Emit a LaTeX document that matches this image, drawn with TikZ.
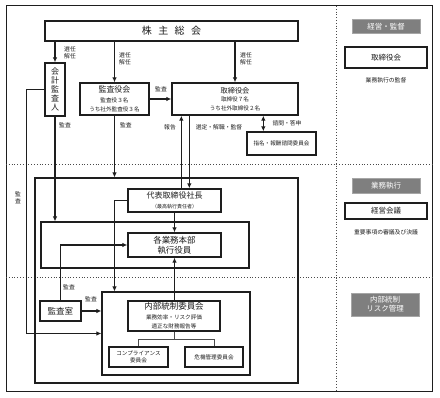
\documentclass[tikz,border=0pt]{standalone}
\usepackage{fontspec}
\setmainfont{Noto Sans CJK JP}
\usetikzlibrary{arrows.meta,positioning,calc}
\definecolor{ink}{HTML}{1E1E1E}
\definecolor{tagfill}{HTML}{7F7F7F}
\definecolor{dotgray}{HTML}{4A4A4A}
\newcommand\subtxt{\fontsize{5.6}{6.6}\selectfont}
\tikzset{box/.style={draw=ink,line width=1.3pt,fill=white,align=center,inner sep=1pt,text=ink,font=\fontsize{8}{9.5}\selectfont}, frame/.style={draw=ink,line width=1.2pt,inner sep=0pt}, tag/.style={fill=tagfill,draw=gray!70,text=white,align=center,minimum width=68pt,inner sep=1pt,font=\fontsize{7.5}{9}\selectfont}, lbl/.style={font=\fontsize{5.8}{7}\selectfont,text=ink,align=center,inner sep=0pt}, flow/.style={-{Latex[length=5pt,width=4.5pt]},line width=1.1pt,draw=ink}, twoway/.style={{Latex[length=5pt,width=4.5pt]}-{Latex[length=5pt,width=4.5pt]},line width=1.1pt,draw=ink}, wire/.style={line width=0.8pt,draw=ink!80}, sep/.style={dotted,line width=0.8pt,draw=dotgray}}
\begin{document}
\begin{tikzpicture}[x=1pt,y=-1pt]
\useasboundingbox (0,0) rectangle (440,398);
% zones
\node[frame,line width=1pt,minimum width=426pt,minimum height=386pt] (outer) at (219,199) {};
\draw[sep] (6,164) -- (432,164);
\draw[sep] (6,277) -- (432,277);
\draw[sep] (336,6) -- (336,392);
\node[frame,minimum width=263pt,minimum height=205pt] (exec) at (166.5,280.5) {};
\node[frame,minimum width=208pt,minimum height=46pt] (gyomu) at (145,245) {};
\node[frame,minimum width=148pt,minimum height=83pt] (naibuf) at (176,333.5) {};
% boxes
\node[box,minimum width=253pt,minimum height=20pt,font=\fontsize{10}{12}\selectfont] (soukai) at (171.5,31) {株\hspace{6.5pt}主\hspace{6.5pt}総\hspace{6.5pt}会};
\node[box,minimum width=20pt,minimum height=53pt,font=\fontsize{8}{9}\selectfont] (kaikei) at (55,89.5) {会\\計\\監\\査\\人};
\node[box,minimum width=69pt,minimum height=32pt] (kansayaku) at (114.5,99) {監査役会\\{\subtxt 監査役３名}\\{\subtxt うち社外監査役３名}};
\node[box,minimum width=126pt,minimum height=32pt,font=\fontsize{7.2}{8.6}\selectfont] (torishimari) at (235,99) {取締役会\\{\subtxt 取締役７名}\\{\subtxt うち社外取締役２名}};
\node[box,minimum width=69pt,minimum height=23pt,font=\subtxt] (shimei) at (281.5,143.5) {指名・報酬諮問委員会};
\node[box,minimum width=93pt,minimum height=23pt] (shacho) at (174.5,200.5) {代表取締役社長\\{\fontsize{5}{6}\selectfont （最高執行責任者）}};
\node[box,minimum width=93pt,minimum height=24pt,font=\fontsize{8.5}{10}\selectfont] (honbu) at (174.5,245) {各業務本部\\執行役員};
\node[box,minimum width=41pt,minimum height=20pt,font=\fontsize{8.5}{10}\selectfont] (kansashitsu) at (60.5,311) {監査室};
\node[box,minimum width=92pt,minimum height=30pt,font=\fontsize{8.5}{9.5}\selectfont] (naibu) at (174,316) {内部統制委員会\\{\subtxt 業務効率・リスク評価}\\{\subtxt 適正な財務報告等}};
\node[box,minimum width=59pt,minimum height=20pt,font=\subtxt] (comp) at (138.5,357) {コンプライアンス\\委員会};
\node[box,minimum width=58pt,minimum height=20pt,font=\subtxt] (kiki) at (214,357) {危機管理委員会};
% side panel
\node[tag,minimum height=14pt] (tagA) at (386,26.5) {経営・監督};
\node[box,minimum width=82pt,minimum height=21pt,font=\fontsize{7.5}{9}\selectfont] (sideA) at (386,57.5) {取締役会};
\node[lbl] (noteA) at (386,80) {業務執行の監督};
\node[tag,minimum height=15pt] (tagB) at (386,186) {業務執行};
\node[box,minimum width=82pt,minimum height=16pt,font=\fontsize{7.5}{9}\selectfont] (sideB) at (386,211) {経営会議};
\node[lbl] (noteB) at (386,232) {重要事項の審議及び決議};
\node[tag,minimum height=23pt] (tagC) at (385,304.5) {内部統制\\リスク管理};
% arrows
\draw[flow] (soukai.south -| kaikei.north) -- (kaikei.north);
\draw[flow] (soukai.south -| kansayaku.north) -- (kansayaku.north);
\draw[flow] (soukai.south -| torishimari.north) -- (torishimari.north);
\draw[flow] (kansayaku) -- (torishimari);
\draw[twoway] ([xshift=17pt]shimei.north west) -- ([xshift=17pt]shimei.north west |- torishimari.south);
\draw[flow] ([xshift=54pt]shacho.north west) -- ([xshift=54pt]shacho.north west |- torishimari.south);
\draw[flow] ([xshift=62pt]shacho.north west |- torishimari.south) -- ([xshift=62pt]shacho.north west);
\draw[flow] (kansayaku.south) -- (kansayaku.south |- exec.north);
\draw[flow] (kaikei.south) -- (kaikei.south |- gyomu.north);
\draw[flow] (kaikei.west) -- ++(-18,0) |- (naibuf.west);
\draw[flow] (shacho) -- (honbu);
\draw[flow] (shacho.west) -| (kansayaku.south |- naibuf.north);
\draw[flow] (naibu.north -| honbu.south) -- (honbu.south);
\draw[flow] (kansashitsu.north) |- (honbu.west);
\draw[flow] (kansashitsu.east) -- (kansashitsu.east -| naibuf.west);
\draw[wire] (naibu.south) -- ++(0,8) coordinate (fork);
\draw[wire] (comp.north) |- (fork) -| (kiki.north);
% labels
\node[lbl] at (70,52.5) {選任\\解任};
\node[lbl] at (125,59) {選任\\解任};
\node[lbl] at (246,59) {選任\\解任};
\node[lbl] at (161,89) {監査};
\node[lbl] at (287,123) {諮問・答申};
\node[lbl] at (170,127) {報告};
\node[lbl] at (219,127) {選定・解職・監督};
\node[lbl] at (126,125.5) {監査};
\node[lbl] at (65,125.5) {監査};
\node[lbl] at (18,198) {監\\査};
\node[lbl] at (69,287) {監査};
\node[lbl] at (91,299.5) {監査};
\end{tikzpicture}
\end{document}
